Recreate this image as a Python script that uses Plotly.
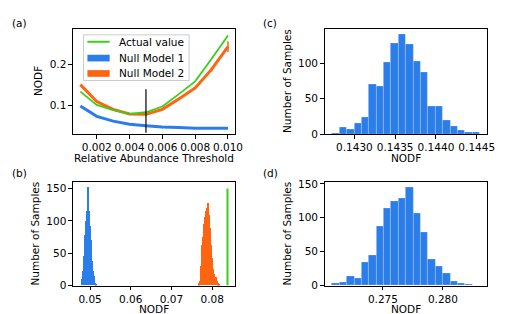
import numpy as np
import plotly.graph_objects as go

# ---------------- data ----------------
thresholds = [0.001, 0.002, 0.003, 0.004, 0.005, 0.006, 0.007, 0.008, 0.009, 0.010]
actual_nodf = [0.134, 0.102, 0.089, 0.080, 0.084, 0.098, 0.128, 0.159, 0.214, 0.270]
null1_nodf = [0.099, 0.074, 0.0625, 0.055, 0.051, 0.048, 0.047, 0.045, 0.045, 0.045]
null2_nodf = [0.151, 0.110, 0.091, 0.080, 0.079, 0.091, 0.116, 0.143, 0.188, 0.243]
null2_err = [0.0, 0.0, 0.0, 0.0, 0.0, 0.0, 0.001, 0.003, 0.005, 0.013]
chosen_threshold = 0.005
chosen_line_nodf = [0.034, 0.140]

# panel (b): distributions at the chosen threshold
b_null1_range = (0.04780, 0.05156)
b_null1_counts = [4, 10, 22, 45, 65, 78, 100, 115, 152, 130, 115, 92, 70, 48, 38, 22, 15, 8, 4, 2]
b_null2_range = (0.07659, 0.08171)
b_null2_counts = [3, 6, 30, 62, 75, 95, 105, 115, 120, 127, 108, 88, 62, 42, 25, 18, 12, 7, 3, 1]
b_actual = 0.08376
b_actual_height = 150

# panel (c)
c_range = (0.142726, 0.144536)
c_counts = [1, 9, 7, 15, 23, 70, 67, 102, 129, 141, 127, 103, 87, 39, 39, 20, 11, 5, 3, 2]

# panel (d)
d_range = (0.27076, 0.28306)
d_counts = [4, 5, 13, 11, 34, 44, 87, 114, 124, 129, 145, 107, 79, 38, 28, 18, 7, 4, 2, 1]

# ticks
a_xticks = [0.002, 0.004, 0.006, 0.008, 0.010]
a_xticklabels = ["0.002", "0.004", "0.006", "0.008", "0.010"]
a_yticks = [0.1, 0.2]
b_xticks = [0.05, 0.06, 0.07, 0.08]
b_yticks = [0, 50, 100, 150]
c_xticks = [0.1430, 0.1435, 0.1440, 0.1445]
c_xticklabels = ["0.1430", "0.1435", "0.1440", "0.1445"]
c_yticks = [0, 50, 100]
d_xticks = [0.275, 0.280]
d_yticks = [0, 50, 100, 150]

legend_labels = ["Actual value", "Null Model 1", "Null Model 2"]

# ---------------- style ----------------
BLUE = "#2B7DE9"
ORANGE = "#FF6410"
GREEN = "#3ACF1A"
FONT = "DejaVu Sans"
FS = 10.5
W, H = 510, 314


def px_x(p):
    return p / W


def px_y(p):
    return 1 - p / H


col1 = [px_x(66), px_x(231)]
col2 = [px_x(321.7), px_x(486.7)]
row1 = [px_y(125.5), px_y(17)]
row2 = [px_y(282.5), px_y(175.5)]


def hist_bars(rng, counts, color, xa, ya, edge=True):
    n = len(counts)
    edges = np.linspace(rng[0], rng[1], n + 1)
    centers = (edges[:-1] + edges[1:]) / 2
    width = edges[1] - edges[0]
    line = dict(color="rgba(255,255,255,0.35)", width=0.6) if edge else dict(width=0)
    return go.Bar(x=centers, y=counts, width=[width] * n, marker=dict(color=color, line=line),
                  xaxis=xa, yaxis=ya, showlegend=False, hoverinfo="skip")


fig = go.Figure()

# (a)
fig.add_trace(go.Scatter(x=thresholds, y=null1_nodf, mode="lines", line=dict(color=BLUE, width=3),
                         xaxis="x", yaxis="y", showlegend=False))
fig.add_trace(go.Scatter(x=thresholds, y=null2_nodf, mode="lines", line=dict(color=ORANGE, width=3),
                         error_y=dict(type="data", array=null2_err, color=ORANGE, thickness=1.5, width=0),
                         xaxis="x", yaxis="y", showlegend=False))
fig.add_trace(go.Scatter(x=thresholds, y=actual_nodf, mode="lines", line=dict(color=GREEN, width=1.8),
                         xaxis="x", yaxis="y", showlegend=False))
fig.add_trace(go.Scatter(x=[chosen_threshold, chosen_threshold], y=chosen_line_nodf, mode="lines",
                         line=dict(color="black", width=1.2), xaxis="x", yaxis="y", showlegend=False))

# (b)
fig.add_trace(hist_bars(b_null1_range, b_null1_counts, BLUE, "x2", "y2", edge=False))
fig.add_trace(hist_bars(b_null2_range, b_null2_counts, ORANGE, "x2", "y2", edge=False))
fig.add_trace(go.Scatter(x=[b_actual, b_actual], y=[0, b_actual_height], mode="lines",
                         line=dict(color=GREEN, width=2), xaxis="x2", yaxis="y2", showlegend=False))

# (c), (d)
fig.add_trace(hist_bars(c_range, c_counts, BLUE, "x3", "y3"))
fig.add_trace(hist_bars(d_range, d_counts, BLUE, "x4", "y4"))

axis_common = dict(showline=True, linecolor="black", linewidth=1, mirror=True, ticks="outside",
                   ticklen=3.5, tickwidth=1, tickcolor="black", showgrid=False, zeroline=False,
                   tickfont=dict(family=FONT, size=FS, color="black"))

fig.update_layout(
    width=W, height=H, margin=dict(l=0, r=0, t=0, b=0),
    paper_bgcolor="white", plot_bgcolor="white", bargap=0, barmode="overlay",
    font=dict(family=FONT, size=FS, color="black"),
    xaxis=dict(domain=col1, anchor="y", range=[0.00055, 0.01045], tickvals=a_xticks,
               ticktext=a_xticklabels, **axis_common),
    yaxis=dict(domain=row1, anchor="x", range=[0.031, 0.285], tickvals=a_yticks,
               ticktext=[str(v) for v in a_yticks], **axis_common),
    xaxis2=dict(domain=col1, anchor="y2", range=[0.0458, 0.0857], tickvals=b_xticks,
                ticktext=[f"{v:.2f}" for v in b_xticks], **axis_common),
    yaxis2=dict(domain=row2, anchor="x2", range=[0, 159.6], tickvals=b_yticks, **axis_common),
    xaxis3=dict(domain=col2, anchor="y3", range=[c_range[0] - 0.05 * (c_range[1] - c_range[0]),
                                                 c_range[1] + 0.05 * (c_range[1] - c_range[0])],
                tickvals=c_xticks, ticktext=c_xticklabels, **axis_common),
    yaxis3=dict(domain=row1, anchor="x3", range=[0, 148.1], tickvals=c_yticks, **axis_common),
    xaxis4=dict(domain=col2, anchor="y4", range=[d_range[0] - 0.05 * (d_range[1] - d_range[0]),
                                                 d_range[1] + 0.05 * (d_range[1] - d_range[0])],
                tickvals=d_xticks, ticktext=[f"{v:.3f}" for v in d_xticks], **axis_common),
    yaxis4=dict(domain=row2, anchor="x4", range=[0, 152.3], tickvals=d_yticks, **axis_common),
)

# legend for (a), drawn inside the axes
shapes = [
    dict(type="rect", xref="x domain", yref="y domain", x0=0.065, x1=0.715, y0=0.512, y1=0.948,
         fillcolor="rgba(255,255,255,0.85)", line=dict(color="#cccccc", width=1)),
    dict(type="line", xref="x domain", yref="y domain", x0=0.089, x1=0.226, y0=0.882, y1=0.882,
         line=dict(color=GREEN, width=2)),
    dict(type="rect", xref="x domain", yref="y domain", x0=0.089, x1=0.226, y0=0.726 - 0.032,
         y1=0.726 + 0.032, fillcolor=BLUE, line=dict(width=0)),
    dict(type="rect", xref="x domain", yref="y domain", x0=0.089, x1=0.226, y0=0.579 - 0.032,
         y1=0.579 + 0.032, fillcolor=ORANGE, line=dict(width=0)),
]
fig.update_layout(shapes=shapes)

annotations = []
for lab, yy in zip(legend_labels, [0.882, 0.726, 0.579]):
    annotations.append(dict(text=lab, xref="x domain", yref="y domain", x=0.272, y=yy,
                            xanchor="left", yanchor="middle", showarrow=False,
                            font=dict(family=FONT, size=FS, color="black")))


def ann(text, x, y, angle=0, anchor_x="center"):
    annotations.append(dict(text=text, xref="paper", yref="paper", x=px_x(x), y=px_y(y),
                            xanchor=anchor_x, yanchor="middle", showarrow=False, textangle=angle,
                            font=dict(family=FONT, size=FS, color="black")))


# axis titles
ann("Relative Abundance Threshold", 148.5, 150.5)
ann("NODF", 148.5, 306.5)
ann("NODF", 404.2, 150.5)
ann("NODF", 404.2, 306.5)
ann("NODF", 30, 71, angle=-90)
ann("Number of Samples", 27, 229, angle=-90)
ann("Number of Samples", 283, 71, angle=-90)
ann("Number of Samples", 283, 229, angle=-90)
# panel labels
ann("(a)", 2, 10, anchor_x="left")
ann("(b)", 2, 166, anchor_x="left")
ann("(c)", 257, 10, anchor_x="left")
ann("(d)", 257, 166, anchor_x="left")

fig.update_layout(annotations=annotations)

fig.write_html("out.html")
